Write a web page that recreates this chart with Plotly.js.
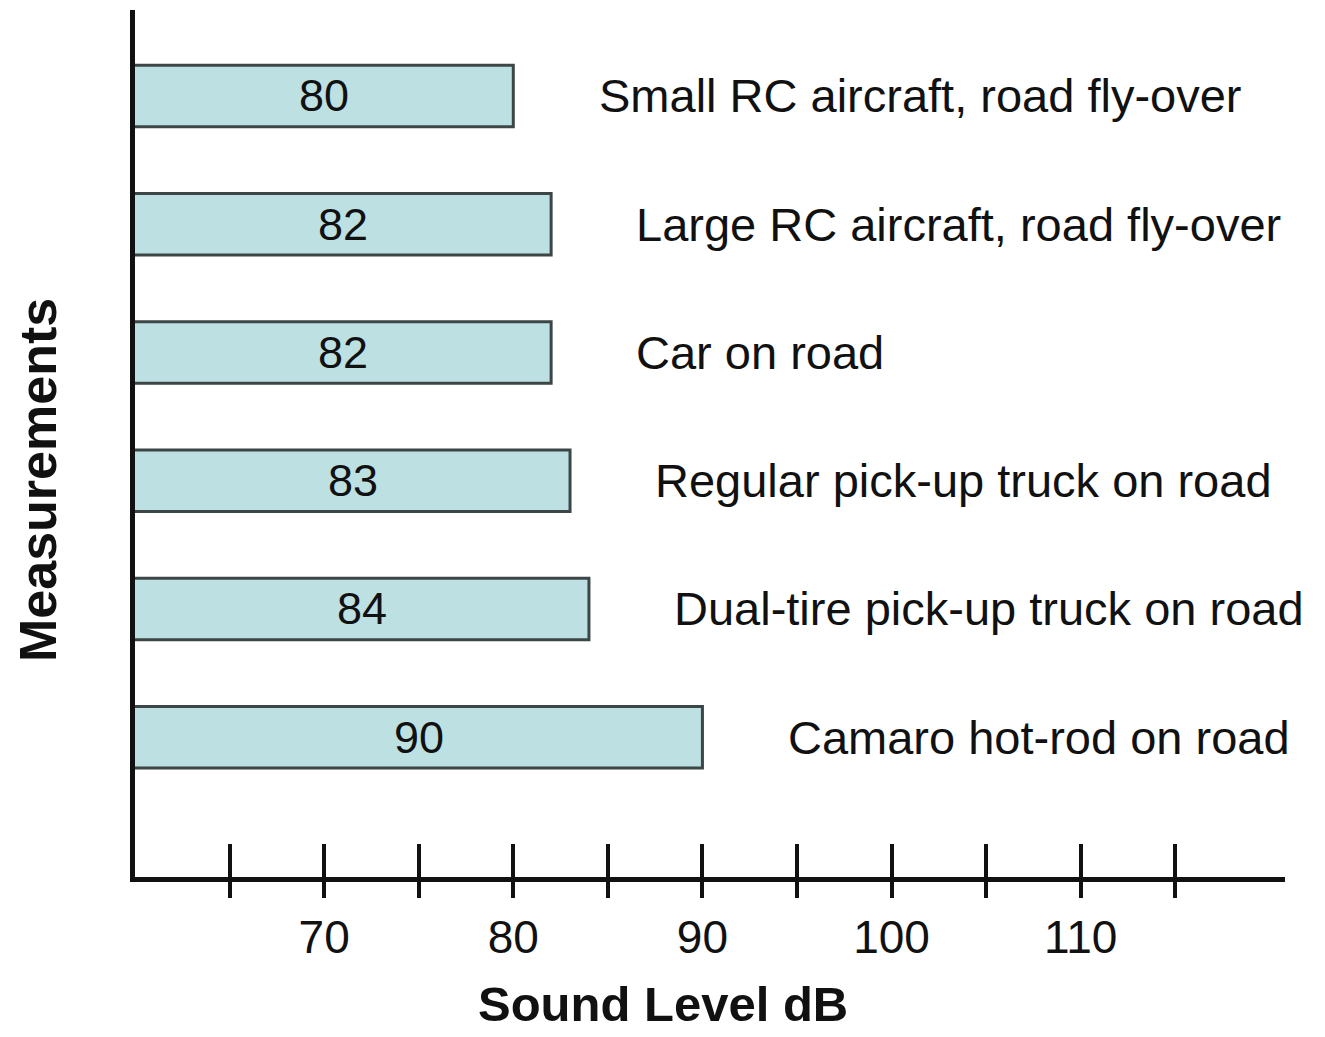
<!DOCTYPE html>
<html>
<head>
<meta charset="utf-8">
<script src="https://cdn.plot.ly/plotly-3.0.1.min.js"></script>
<style>html,body{margin:0;padding:0;background:#fff}#chart{width:1325px;height:1037px}</style>
</head>
<body>
<div id="chart"></div>
<script>
const measurements = [
  "Small RC aircraft, road fly-over",
  "Large RC aircraft, road fly-over",
  "Car on road",
  "Regular pick-up truck on road",
  "Dual-tire pick-up truck on road",
  "Camaro hot-rod on road"
];
const soundLevels = [80, 82, 82, 83, 84, 90];
const tickValues = [65, 70, 75, 80, 85, 90, 95, 100, 105, 110, 115];
const tickLabels = ["", "70", "", "80", "", "90", "", "100", "", "110", ""];

const FONT = '"Liberation Sans", Arial, sans-serif';
const X_RANGE = [60, 120.8];

const trace = {
  type: 'bar',
  orientation: 'h',
  x: soundLevels,
  y: measurements,
  width: 0.48,
  marker: {color: '#bde0e3', line: {color: '#3c4646', width: 3}},
  textposition: 'none',
  hoverinfo: 'x+y',
  showlegend: false
};

// invisible trace to activate the second (overlaid) x axis for crossing ticks
const ghost = {
  type: 'scatter', mode: 'markers', x: [soundLevels[0]], y: [measurements[0]],
  xaxis: 'x2', marker: {opacity: 0}, hoverinfo: 'skip', showlegend: false
};

const labelOffset = 4.4;
const annotations = [];
measurements.forEach((m, i) => {
  // value label centred in the visible part of the bar
  annotations.push({
    x: (X_RANGE[0] + soundLevels[i]) / 2, y: m, xref: 'x', yref: 'y',
    text: String(soundLevels[i]), showarrow: false, xanchor: 'center', yanchor: 'middle',
    font: {family: FONT, size: 45, color: '#111'}
  });
  // category label to the right of the bar
  annotations.push({
    x: soundLevels[i] + labelOffset, y: m, xref: 'x', yref: 'y',
    text: m, showarrow: false, xanchor: 'left', yanchor: 'middle',
    font: {family: FONT, size: 47, color: '#111'}
  });
});
annotations.push({
  xref: 'paper', yref: 'paper', x: 0.459, y: -0.147,
  text: '<b>Sound Level dB</b>', showarrow: false,
  xanchor: 'center', yanchor: 'middle', borderpad: 0,
  font: {family: FONT, size: 49, color: '#111'}
});
annotations.push({
  xref: 'paper', yref: 'paper', x: -0.0843, y: 0.458,
  text: '<b>Measurements</b>', showarrow: false, textangle: -90,
  xanchor: 'center', yanchor: 'middle',
  font: {family: FONT, size: 52, color: '#111'}
});

const axisCommon = {
  range: X_RANGE, tickmode: 'array', tickvals: tickValues,
  tickwidth: 4, tickcolor: '#111', showgrid: false, zeroline: false, fixedrange: true
};

const layout = {
  width: 1325, height: 1037,
  margin: {l: 135, r: 40, t: 10, b: 160},
  paper_bgcolor: '#fff', plot_bgcolor: '#fff',
  font: {family: FONT, color: '#111'},
  xaxis: Object.assign({}, axisCommon, {
    ticktext: tickLabels, ticks: 'outside', ticklen: 16,
    showline: true, linecolor: '#111', linewidth: 5,
    tickfont: {family: FONT, size: 46, color: '#111'}
  }),
  xaxis2: Object.assign({}, axisCommon, {
    overlaying: 'x', anchor: 'y', side: 'bottom', ticks: 'inside', ticklen: 33,
    showticklabels: false, showline: false
  }),
  yaxis: {
    type: 'category', range: [6.09, -0.67], autorange: false,
    showticklabels: false, ticks: '', showgrid: false, zeroline: false,
    showline: true, linecolor: '#111', linewidth: 5, fixedrange: true
  },
  annotations: annotations
};

Plotly.newPlot('chart', [trace, ghost], layout, {displayModeBar: false, staticPlot: true});
</script>
</body>
</html>
